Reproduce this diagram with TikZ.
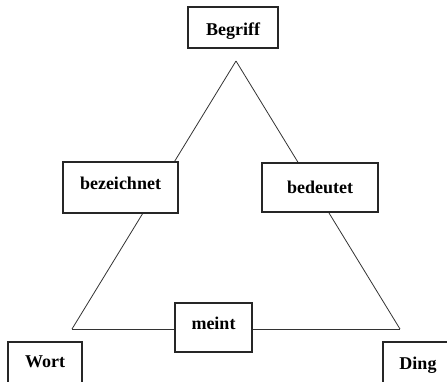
\documentclass[tikz,border=0pt]{standalone}
\usepackage{fontspec}
\setmainfont{Liberation Serif}
\begin{document}
\begin{tikzpicture}[x=1pt,y=-1pt,
  box/.style={draw=black!85, fill=white, line width=1.1pt, inner sep=0pt,
    font=\fontsize{18}{20}\selectfont\bfseries},
  edge/.style={draw=black!80, line width=0.8pt}]
\clip (0,0) rectangle (447,381);
\coordinate (A) at (236,61);
\coordinate (L) at (72,329);
\coordinate (R) at (400,329);
\draw[edge] (A) -- (L);
\draw[edge] (A) -- (R);
\draw[edge] (L) -- (R);
\node[box, minimum width=90pt, minimum height=41pt, text height=15pt, text depth=0pt] (begriff) at (233,27.5) {Begriff};
\node[box, minimum width=115pt, minimum height=51pt, text height=12pt, text depth=9pt] (bez) at (120.5,187.5) {bezeichnet};
\node[box, minimum width=116pt, minimum height=49pt, text height=12pt, text depth=1pt] (bed) at (320,187.5) {bedeutet};
\node[box, minimum width=77pt, minimum height=49pt, text height=12pt, text depth=9pt] (meint) at (213.5,327.5) {meint};
\node[box, minimum width=74pt, minimum height=70pt, text height=0pt, text depth=20pt] (wort) at (45,377) {Wort};
\node[box, minimum width=70pt, minimum height=70pt, text height=0pt, text depth=16pt] (ding) at (418,377) {Ding};
\end{tikzpicture}
\end{document}
